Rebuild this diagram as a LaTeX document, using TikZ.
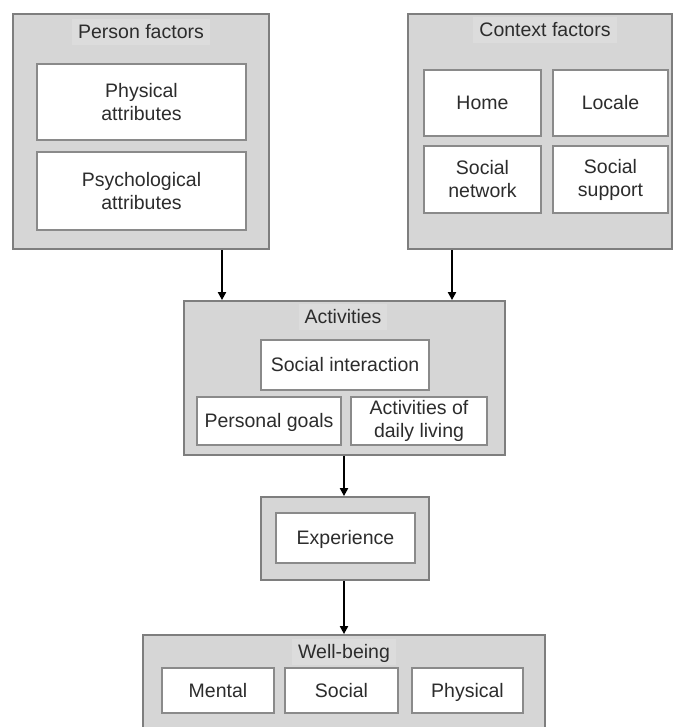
\documentclass[tikz,border=0pt]{standalone}
\usepackage{fontspec}
\setmainfont{Liberation Sans}
\usetikzlibrary{arrows.meta}
\definecolor{panelfill}{HTML}{D6D6D6}
\definecolor{panelline}{HTML}{7E7E7E}
\definecolor{titleband}{HTML}{DCDCDC}
\definecolor{itemline}{HTML}{8A8A8A}
\definecolor{ink}{HTML}{2C2C2C}
\begin{document}
\begin{tikzpicture}[x=1pt,y=-1pt,
  font=\fontsize{19.5}{23}\selectfont,
  panel/.style={draw=panelline,fill=panelfill,line width=1.8pt,inner sep=0pt},
  item/.style={draw=itemline,fill=white,line width=1.4pt,inner sep=0pt,
    text=ink,align=center},
  oneline/.style={text height=13.5pt,text depth=0pt},
  heading/.style={fill=titleband,text=ink,inner xsep=6pt,inner ysep=6pt,
    text height=13.5pt,text depth=0pt},
  flow/.style={line width=2.6pt,-{Triangle[length=8pt,width=8pt]}}]
\useasboundingbox (0,0) rectangle (674,727);
\fill[white] (0,0) rectangle (674,727);

% Person factors
\node[panel,minimum width=256pt,minimum height=235pt] (person) at (141,131.5) {};
\node[heading] (persont) at (141,32) {Person factors};
\node[item,minimum width=209pt,minimum height=76pt] (phys) at (141.5,102) {Physical\\attributes};
\node[item,minimum width=209pt,minimum height=78pt] (psych) at (141.5,191) {Psychological\\attributes};

% Context factors
\node[panel,minimum width=264pt,minimum height=235pt] (context) at (540,131.5) {};
\node[heading] (contextt) at (545,30) {Context factors};
\node[item,oneline,minimum width=117pt,minimum height=66pt] (home) at (482.5,103) {Home};
\node[item,oneline,minimum width=115pt,minimum height=66pt] (locale) at (610.5,103) {Locale};
\node[item,minimum width=117pt,minimum height=67pt] (snet) at (482.5,179.5) {Social\\network};
\node[item,minimum width=115pt,minimum height=67pt] (ssup) at (610.5,179.5) {Social\\support};

% Activities
\node[panel,minimum width=321pt,minimum height=154pt] (act) at (344.5,378) {};
\node[heading] (actt) at (343,317) {Activities};
\node[item,oneline,minimum width=168pt,minimum height=50pt] (sint) at (345,365) {Social interaction};
\node[item,oneline,minimum width=144pt,minimum height=48pt] (goals) at (269,421) {Personal goals};
\node[item,minimum width=136pt,minimum height=48pt] (adl) at (419,421) {Activities of\\daily living};

% Experience
\node[panel,minimum width=168pt,minimum height=83pt] (exp) at (345,538.5) {};
\node[item,oneline,minimum width=139pt,minimum height=50pt] (expi) at (345.5,538) {Experience};

% Well-being
\node[panel,minimum width=402pt,minimum height=110pt] (well) at (344,690) {};
\node[heading] (wellt) at (344,652) {Well-being};
\node[item,oneline,minimum width=112pt,minimum height=45pt] (mental) at (218,690.5) {Mental};
\node[item,oneline,minimum width=113pt,minimum height=45pt] (social) at (341.5,690.5) {Social};
\node[item,oneline,minimum width=111pt,minimum height=45pt] (physw) at (467.5,690.5) {Physical};

% Connectors
\coordinate (pcol) at (222,0);
\coordinate (ccol) at (452,0);
\coordinate (mcol) at (344,0);
\draw[flow] (person.south -| pcol) -- (act.north -| pcol);
\draw[flow] (context.south -| ccol) -- (act.north -| ccol);
\draw[flow] (act.south -| mcol) -- (exp.north -| mcol);
\draw[flow] (exp.south -| mcol) -- (well.north -| mcol);
\end{tikzpicture}
\end{document}
